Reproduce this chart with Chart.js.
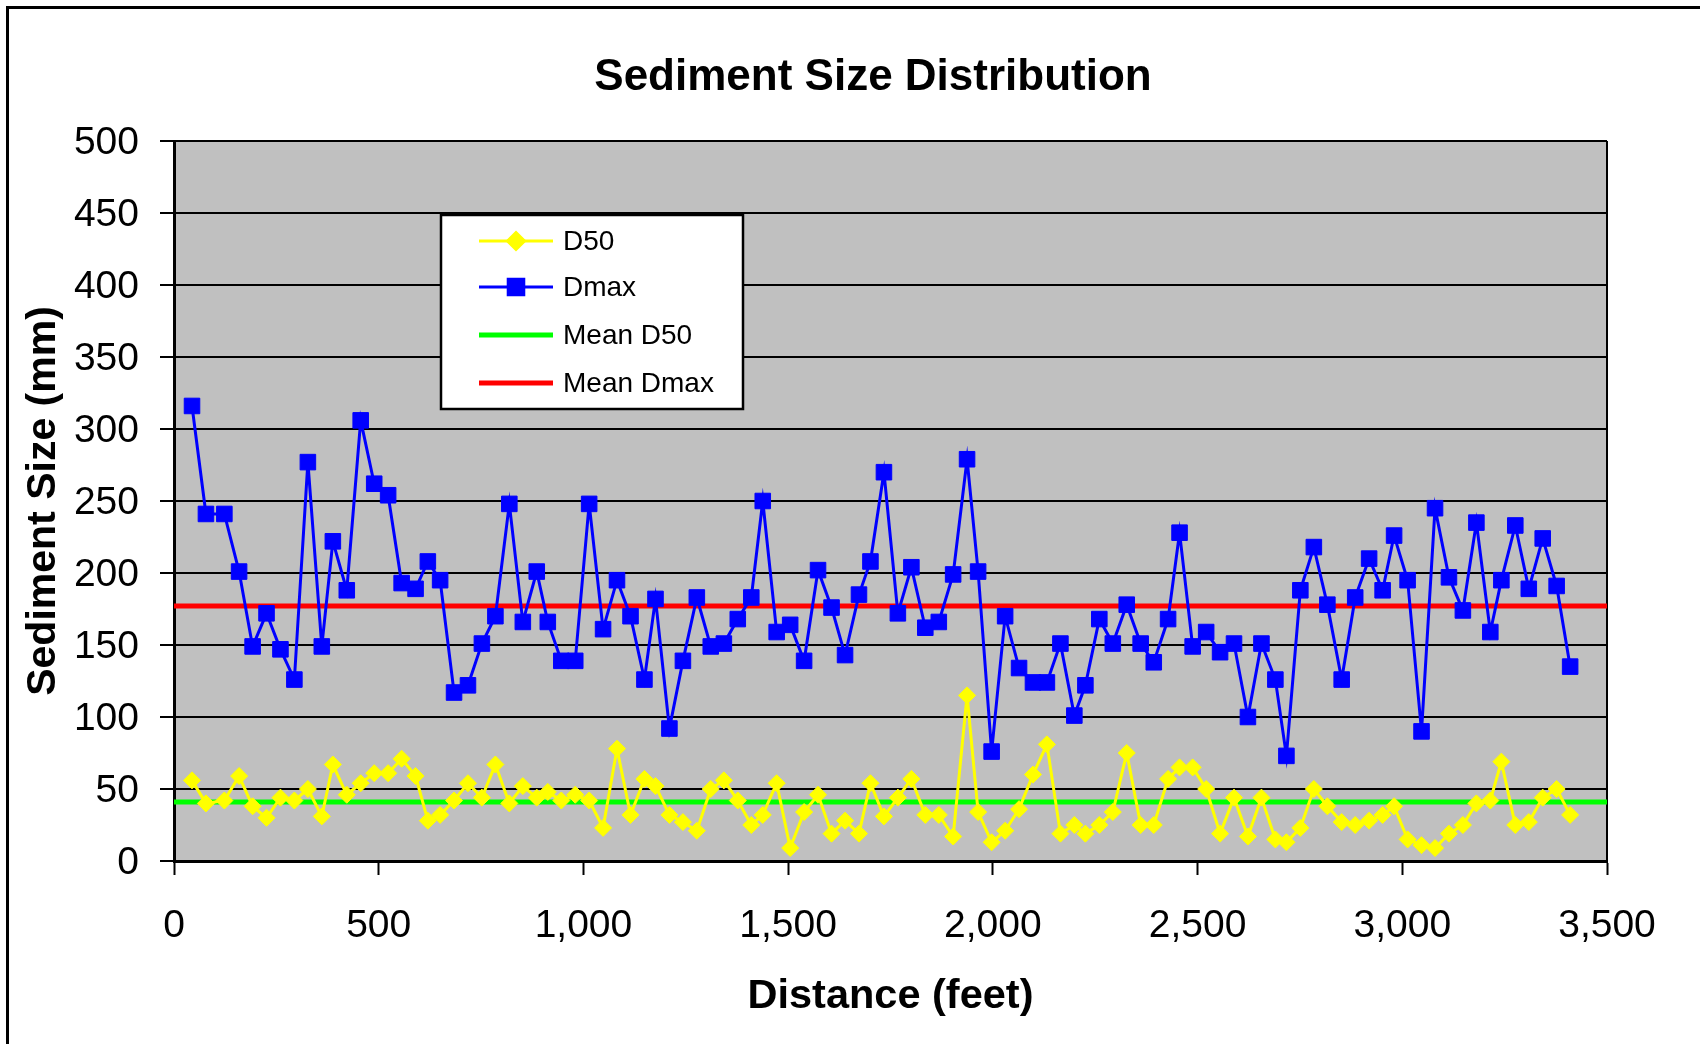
<!DOCTYPE html>
<html>
<head>
<meta charset="utf-8">
<script src="https://cdn.jsdelivr.net/npm/chart.js@4/dist/chart.umd.min.js"></script>
<style>
  html, body { margin: 0; padding: 0; background: #ffffff; }
  #wrap { position: relative; width: 1700px; height: 1044px; }
  canvas { display: block; }
</style>
</head>
<body>
<div id="wrap"><canvas id="c" width="1700" height="1044"></canvas></div>
<script>
// ---- Data ----
const distanceFt = [
  44, 78, 123, 159, 192, 226, 260, 294, 327, 361,
  388, 422, 456, 489, 523, 556, 590, 620, 650, 684,
  718, 752, 785, 819, 852, 886, 913, 946, 980, 1014,
  1048, 1082, 1115, 1149, 1176, 1210, 1243, 1277, 1311, 1343,
  1377, 1410, 1438, 1472, 1505, 1539, 1573, 1606, 1639, 1673,
  1701, 1734, 1768, 1801, 1835, 1868, 1903, 1937, 1964, 1997,
  2030, 2064, 2098, 2132, 2165, 2199, 2226, 2260, 2293, 2327,
  2361, 2393, 2428, 2456, 2488, 2521, 2555, 2589, 2623, 2656,
  2690, 2717, 2751, 2784, 2817, 2852, 2885, 2919, 2952, 2980,
  3013, 3047, 3080, 3114, 3148, 3181, 3215, 3242, 3276, 3309,
  3343, 3377, 3410
];
const d50 = [
  56, 40, 42, 59, 38, 30, 44, 42, 50, 31,
  67, 46, 54, 61, 61, 71, 59, 28, 32, 42,
  54, 44, 67, 40, 52, 44, 48, 42, 46, 42,
  23, 78, 32, 57, 52, 32, 27, 21, 50, 56,
  42, 25, 32, 54, 9, 34, 46, 19, 28, 19,
  54, 31, 44, 57, 32, 32, 17, 115, 34, 13,
  21, 36, 60, 81, 19, 25, 19, 25, 34, 75,
  25, 25, 57, 65, 65, 50, 19, 44, 17, 44,
  15, 13, 23, 50, 38, 27, 25, 28, 32, 38,
  15, 11, 9, 19, 25, 40, 42, 69, 25, 27,
  44, 50, 32
];
const dmax = [
  316, 241, 241, 201, 149, 172, 147, 126, 277, 149,
  222, 188, 306, 262, 254, 193, 189, 208, 195, 117,
  122, 151, 170, 248, 166, 201, 166, 139, 139, 248,
  161, 195, 170, 126, 182, 92, 139, 183, 149, 151,
  168, 183, 250, 159, 164, 139, 202, 176, 143, 185,
  208, 270, 172, 204, 162, 166, 199, 279, 201, 76,
  170, 134, 124, 124, 151, 101, 122, 168, 151, 178,
  151, 138, 168, 228, 149, 159, 145, 151, 100, 151,
  126, 73, 188, 218, 178, 126, 183, 210, 188, 226,
  195, 90, 245, 197, 174, 235, 159, 195, 233, 189,
  224, 191, 135
];
const meanD50 = 41;
const meanDmax = 177;
const meanSpan = [0, 3500];
const seriesNames = ['D50', 'Dmax', 'Mean D50', 'Mean Dmax'];
const xTickStep = 500;
const yTickStep = 50;

const FONT = "'Liberation Sans', Arial, Helvetica, sans-serif";

const toPoints = (xs, ys) => xs.map((x, i) => ({ x: x, y: ys[i] }));

const plotBackground = {
  id: 'plotBackground',
  beforeDraw(chart) {
    const { ctx, chartArea: a } = chart;
    ctx.save();
    // outer frame (top and left edges)
    ctx.fillStyle = '#000000';
    ctx.fillRect(6, 6, 1694, 3);
    ctx.fillRect(6, 6, 3, 1038);
    // plot area fill
    ctx.fillStyle = '#C0C0C0';
    ctx.fillRect(a.left, a.top, a.right - a.left, a.bottom - a.top);
    ctx.restore();
  },
  beforeDatasetsDraw(chart) {
    const { ctx, chartArea: a } = chart;
    ctx.save();
    ctx.strokeStyle = '#000000';
    ctx.lineWidth = 2;
    ctx.beginPath();
    ctx.moveTo(a.right, a.top);
    ctx.lineTo(a.right, a.bottom);
    ctx.stroke();
    ctx.restore();
  },
  afterDraw(chart) {
    const ctx = chart.ctx;
    ctx.save();
    // chart title
    ctx.fillStyle = '#000000';
    ctx.font = 'bold 44px ' + FONT;
    ctx.textAlign = 'center';
    ctx.textBaseline = 'middle';
    ctx.fillText('Sediment Size Distribution', 873, 78);

    // legend box
    const bx = 441, by = 215, bw = 302, bh = 194;
    ctx.fillStyle = '#FFFFFF';
    ctx.fillRect(bx, by, bw, bh);
    ctx.strokeStyle = '#000000';
    ctx.lineWidth = 2.5;
    ctx.strokeRect(bx, by, bw, bh);

    const rowsY = [241, 287, 335, 383];
    const order = [0, 1, 2, 3];
    order.forEach((di, r) => {
      const ds = chart.data.datasets[di];
      const y = rowsY[r];
      ctx.strokeStyle = ds.borderColor;
      ctx.lineWidth = ds.legendLineWidth;
      ctx.beginPath();
      ctx.moveTo(479, y);
      ctx.lineTo(553, y);
      ctx.stroke();
      if (ds.pointRadius > 0) {
        ctx.fillStyle = ds.backgroundColor;
        ctx.strokeStyle = ds.borderColor;
        Chart.helpers.drawPoint(ctx, {
          pointStyle: ds.pointStyle,
          radius: ds.pointRadius,
          rotation: 0,
          borderWidth: 1
        }, 516, y);
      }
      ctx.fillStyle = '#000000';
      ctx.font = '28px ' + FONT;
      ctx.textAlign = 'left';
      ctx.textBaseline = 'middle';
      ctx.fillText(ds.label, 563, y + 1);
    });
    ctx.restore();
  }
};

new Chart(document.getElementById('c'), {
  type: 'line',
  data: {
    datasets: [
      {
        label: seriesNames[0],
        data: toPoints(distanceFt, d50),
        borderColor: '#FFFF00',
        backgroundColor: '#FFFF00',
        borderWidth: 3,
        legendLineWidth: 3,
        pointStyle: 'rectRot',
        pointRadius: 8.5,
        pointBorderWidth: 1,
        tension: 0,
        order: 1
      },
      {
        label: seriesNames[1],
        data: toPoints(distanceFt, dmax),
        borderColor: '#0000FF',
        backgroundColor: '#0000FF',
        borderWidth: 3,
        legendLineWidth: 3,
        pointStyle: 'rect',
        pointRadius: 11,
        pointBorderWidth: 1,
        tension: 0,
        order: 0
      },
      {
        label: seriesNames[2],
        data: toPoints(meanSpan, [meanD50, meanD50]),
        borderColor: '#00FF00',
        backgroundColor: '#00FF00',
        borderWidth: 5,
        legendLineWidth: 5,
        pointRadius: 0,
        order: 2
      },
      {
        label: seriesNames[3],
        data: toPoints(meanSpan, [meanDmax, meanDmax]),
        borderColor: '#FF0000',
        backgroundColor: '#FF0000',
        borderWidth: 5,
        legendLineWidth: 5,
        pointRadius: 0,
        order: 3
      }
    ]
  },
  options: {
    responsive: false,
    animation: false,
    locale: 'en-US',
    layout: { padding: { left: 9, right: 93, top: 141, bottom: 0 } },
    plugins: {
      legend: { display: false },
      title: { display: false },
      tooltip: { enabled: false }
    },
    elements: { line: { borderCapStyle: 'butt' } },
    scales: {
      x: {
        type: 'linear',
        min: 0,
        max: 3500,
        afterFit(scale) { scale.height = 183; },
        ticks: {
          stepSize: xTickStep,
          color: '#000000',
          font: { family: FONT, size: 39 },
          padding: 28,
          maxRotation: 0,
          autoSkip: false
        },
        grid: {
          drawOnChartArea: false,
          drawTicks: true,
          tickLength: 14,
          tickColor: '#000000',
          tickWidth: 2
        },
        border: { display: true, color: '#000000', width: 3 },
        title: {
          display: true,
          text: 'Distance (feet)',
          color: '#000000',
          font: { family: FONT, size: 41.5, weight: 'bold' },
          padding: { top: 0, bottom: 23 }
        }
      },
      y: {
        type: 'linear',
        min: 0,
        max: 500,
        afterFit(scale) { scale.width = 165; },
        ticks: {
          stepSize: yTickStep,
          color: '#000000',
          font: { family: FONT, size: 39 },
          padding: 21,
          labelOffset: 2
        },
        grid: {
          color: '#000000',
          lineWidth: 2,
          drawTicks: true,
          tickLength: 14,
          tickColor: '#000000',
          tickWidth: 2
        },
        border: { display: true, color: '#000000', width: 3 },
        title: {
          display: true,
          text: 'Sediment Size (mm)',
          color: '#000000',
          font: { family: FONT, size: 41, weight: 'bold' },
          padding: { top: 10, bottom: 0 }
        }
      }
    }
  },
  plugins: [plotBackground]
});
</script>
</body>
</html>
